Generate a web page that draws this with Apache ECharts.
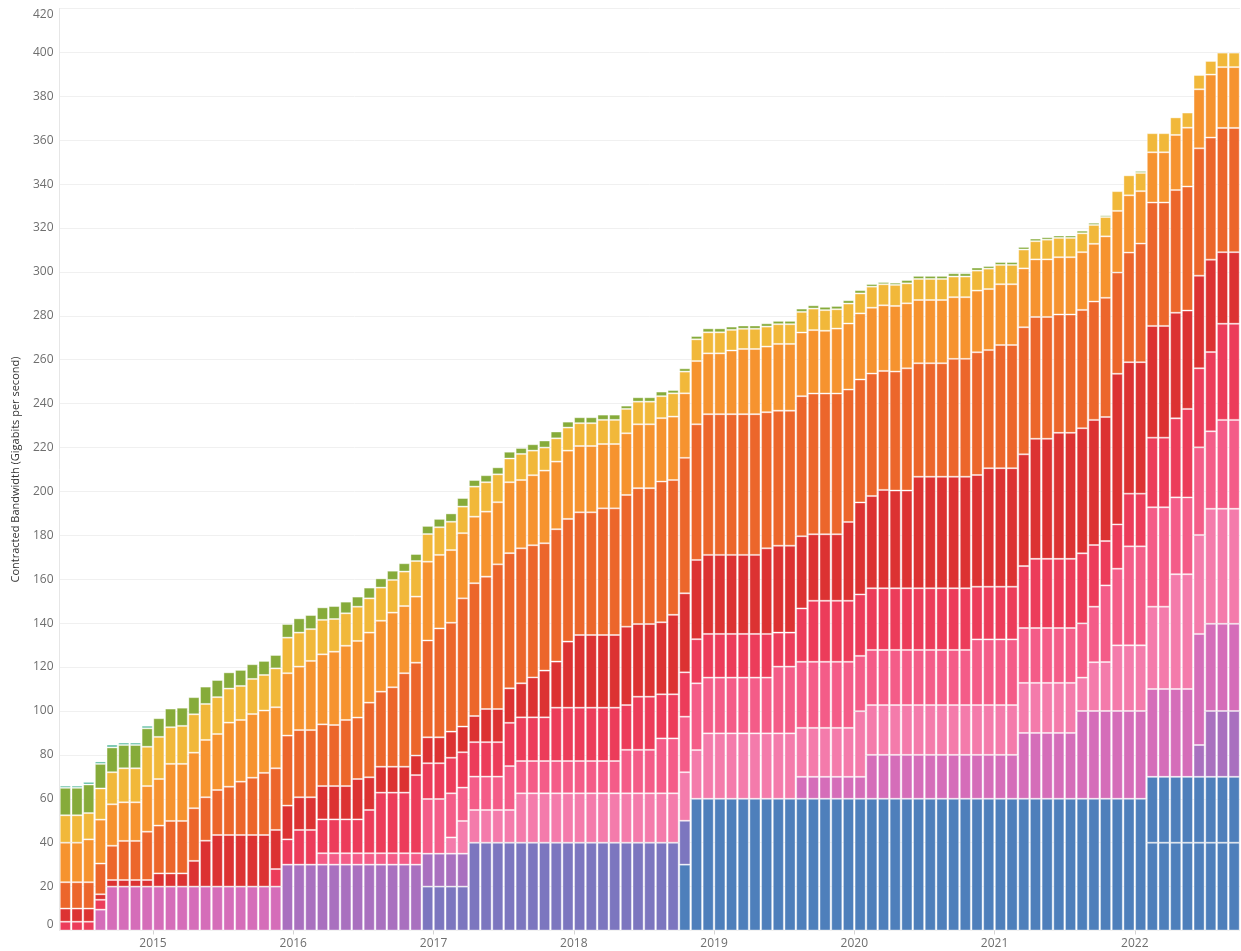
<!DOCTYPE html>
<html><head><meta charset="utf-8">
<script src="https://cdn.jsdelivr.net/npm/echarts@6/dist/echarts.min.js"></script>
<style>html,body{margin:0;padding:0;background:#fff}#c{width:1241px;height:951px}</style>
</head><body><div id="c"></div>
<script>
const _ = null;
// Monthly categories, May 2014 .. Sep 2022
const months = [];
for (let y = 2014, m = 5; months.length < 101;) { months.push(y + '-' + String(m).padStart(2, '0')); m++; if (m > 12) { m = 1; y++; } }
const yearLabels = ['2015', '2016', '2017', '2018', '2019', '2020', '2021', '2022'];

// Segment heights per month (Gbps), bottom to top of the stack
const blue = [_,_,_,_,_,_,_,_,_,_, _,_,_,_,_,_,_,_,_,_, _,_,_,_,_,_,_,_,_,_, _,_,_,_,_,_,_,_,_,_, _,_,_,_,_,_,_,_,_,_,
  _,_,_,30,60,60,60,60,60,60, 60,60,60,60,60,60,60,60,60,60, 60,60,60,60,60,60,60,60,60,60, 60,60,60,60,60,60,60,60,60,60,
  60,60,60,40,40,40,40,40,40,40, 40];
const blue2 = [_,_,_,_,_,_,_,_,_,_, _,_,_,_,_,_,_,_,_,_, _,_,_,_,_,_,_,_,_,_, _,_,_,_,_,_,_,_,_,_, _,_,_,_,_,_,_,_,_,_,
  _,_,_,_,_,_,_,_,_,_, _,_,_,_,_,_,_,_,_,_, _,_,_,_,_,_,_,_,_,_, _,_,_,_,_,_,_,_,_,_,
  _,_,_,30,30,30,30,30,30,30, 30];
const violet = [_,_,_,_,_,_,_,_,_,_, _,_,_,_,_,_,_,_,_,_, _,_,_,_,_,_,_,_,_,_, _,20,20,20,20,40,40,40,40,40, 40,40,40,40,40,40,40,40,40,40,
  40,40,40,20,_,_,_,_,_,_, _,_,_,_,_,_,_,_,_,_, _,_,_,_,_,_,_,_,_,_, _,_,_,_,_,_,_,_,_,_,
  _,_,_,_,_,_,_,_,_,_, _];
const purple = [_,_,_,_,_,_,_,_,_,_, _,_,_,_,_,_,_,_,_,30, 30,30,30,30,30,30,30,30,30,30, 30,15,15,15,15,_,_,_,_,_, _,_,_,_,_,_,_,_,_,_,
  _,_,_,_,_,_,_,_,_,_, _,_,_,_,_,_,_,_,_,_, _,_,_,_,_,_,_,_,_,_, _,_,_,_,_,_,_,_,_,_,
  _,_,_,_,_,_,_,14.5,30,30, 30];
const magenta = [_,_,_,9.5,20,20,20,20,20,20, 20,20,20,20,20,20,20,20,20,_, _,_,_,_,_,_,_,_,_,_, _,_,_,_,_,_,_,_,_,_, _,_,_,_,_,_,_,_,_,_,
  _,_,_,_,_,_,_,_,_,_, _,_,_,10,10,10,10,10,10,20, 20,20,20,20,20,20,20,20,20,20, 20,20,30,30,30,30,30,40,40,40,
  40,40,40,40,40,40,40,50.6,39.7,39.7, 39.7];
const lightPink = [_,_,_,_,_,_,_,_,_,_, _,_,_,_,_,_,_,_,_,_, _,_,_,_,_,_,_,_,_,_, _,_,_,7.4,14.9,14.9,14.9,14.9,14.9,22.5, 22.5,22.5,22.5,22.5,22.5,22.5,22.5,22.5,22.5,22.5,
  22.5,22.5,22.5,22.1,22.2,29.8,29.8,29.8,29.8,29.8, 29.8,29.8,29.8,22.3,22.3,22.3,22.3,22.3,29.9,22.7, 22.7,22.7,22.7,22.7,22.7,22.7,22.7,22.7,22.7,22.7,
  22.7,22.7,22.8,22.8,22.8,22.8,22.8,15.2,22.2,22.3, 29.9,29.9,29.9,37.5,37.5,52.3,52.3,45.1,52.4,52.4, 52.4];
const pink = [_,_,_,_,_,_,_,_,_,_, _,_,_,_,_,_,_,_,_,_, _,_,5.2,5.2,5.2,5.2,5.2,5.2,5.2,5.2, 5.2,24.9,24.9,20.1,15.2,15.2,15.2,15.2,20,14.7,
  14.7,14.7,14.7,14.7,14.7,14.7,14.7,14.7,19.8,19.8, 19.8,25,25,25.3,30.4,25.4,25.4,25.4,25.4,25.4, 25.4,30.4,30.4,30.1,30.1,30.1,30.1,30.1,25.2,25.1,
  25.1,25.1,25.1,25.1,25.1,25.1,25.1,25.1,29.9,29.9, 29.9,29.9,25,25,25,25,25,24.7,25.3,34.9, 34.9,45.1,45.1,45.3,45.3,35,35,39.9,35.3,40.5, 40.5];
const crimson = [4,4,4,4.5,_,_,_,_,_,_, _,_,_,_,_,_,_,_,8,11.5, 15.8,15.8,15.4,15.4,15.4,15.4,19.7,27.6,27.6,27.6,
  35.6,16.3,16.3,16.2,16.1,15.7,15.7,15.7,19.7,19.9, 19.9,19.9,24.3,24.3,24.3,24.3,24.3,24.3,20.4,24.2, 24.2,20.1,20.1,20.2,20.1,19.9,19.9,19.9,19.9,19.9,
  19.9,15.5,15.5,24.3,27.8,27.8,27.8,27.8,28,28.1, 28.1,28.1,28.1,28.1,28.1,28.1,28.1,28.1,24,24, 24,24,28.2,31.5,31.5,31.5,31.5,31.9,28.1,20.2,
  20.2,24,24,31.7,31.7,36,40.3,36,36.1,43.8, 43.8];
const red = [6,6,6,2.5,3,3,3,3,6,6, 6,11.7,20.9,23.5,23.5,23.5,23.5,23.5,17.8,15.4, 14.9,14.9,15.2,15.2,15.2,18.4,14.9,11.8,11.8,11.8,
  8.9,11.8,11.8,11.9,11.7,11.9,15.1,15.1,15.7,15.5, 18.2,21.3,21,30.1,33.1,33.1,33.1,33.1,35.7,33.1, 33.1,32.8,36.2,36,36.1,36,36,36,36,36,
  39,39.6,39.6,32.9,30.3,30.3,30.3,35.9,41.9,42, 44.8,44.5,44.5,50.8,50.8,50.8,50.8,50.8,50.9,54, 54,54,50.9,54.7,54.7,57.4,57.4,57,57,56.5,
  68.6,59.9,59.9,50.9,50.9,48.1,44.8,42.2,42.1,32.6, 32.6];
const darkOrange = [12,12,12,14,15.6,17.8,17.8,22,21.8,23.9, 23.9,24,19.8,20.5,22,24.3,26.1,28.3,28.1,31.9, 30.6,30.6,28.1,27.8,30.1,28,34,34.2,36.2,42.6,
  42.3,44.1,49.6,49.6,58.4,60.5,60.3,65.9,61.6,61.5, 60.2,58,60.3,55.9,55.9,55.9,57.7,57.7,60,61.9, 61.9,64.1,61.4,61.7,61.8,64.1,64.1,64.1,64.1,64.1,
  62,61.5,61.5,63.8,64.1,64.1,64.1,60.3,56,55.8, 54.2,54.2,55.7,51.7,51.7,51.7,53.7,53.7,55.9,53.8, 56.1,56.1,57.9,55.5,55.5,53.9,53.9,53.9,53.9,54.3,
  46.1,49.9,54,56.2,56.2,55.9,56.5,58,55.6,56.6, 56.6];
const orange = [18,18,19.5,20,18.9,17.6,17.6,20.8,21.2,26, 26,25.3,26.1,25.5,29.2,28.1,29,28.4,27.8,28.4, 28.9,31.5,31.9,33.4,33.8,34.9,31.9,32.3,34,30.6,
  30.1,35.9,33.5,33.1,29.7,30.3,29.6,28.3,32.3,31.1, 31.9,33.1,30.8,31.1,30.2,30.2,29.3,29.3,28.1,29.1, 29.1,28.9,28.9,29.4,28.8,27.7,27.7,29,29.7,29.7,
  29.9,30.4,30.4,29,28.9,28.6,29.6,30.1,30.1,30, 29.9,29.9,29.6,28.8,28.8,28.8,28.1,28.1,28.1,27.8, 27.7,27.7,26.8,26.2,26.2,26.1,26.1,26.3,26.3,28,
  28.1,26.1,23.9,22.9,22.9,25.1,26.8,26.9,28.7,27.7, 27.7];
const yellow = [12.5,12.5,12,14.2,14.6,15.5,15.5,17.9,19.2,16.7, 17.3,17.5,16.4,16.8,15.5,15.5,16,16.2,17.7,16.2, 15.5,14.5,15.7,14.9,14.8,15.6,15.6,15.1,14.9,15.7,
  16.2,12.6,12.6,12.9,12.1,13.7,13.4,12.7,10.8,11.9, 11.2,10.5,10.6,10.5,10.4,10.4,11,11,11.1,10.3, 10.3,10,10.6,9.9,9.9,9.6,9.6,9.4,9.2,9.2,
  9.1,9,9,9.4,9.8,9.4,8.8,9.1,9.1,9.6, 9.6,9.6,9.1,9.6,9.6,9.6,9.4,9.4,9.1,9.3, 8.8,8.8,8.6,8.3,9,8.8,8.8,8.6,8.6,8.8,
  9,9.1,8.3,8.7,8.7,8,6.9,6.5,6.2,6.6, 6.6];
const green = [12.5,12.5,13,11.2,11.3,10.6,10.6,8.4,8.5,8.5, 8.3,7.8,7.9,7.8,7.4,7.3,6.7,6.4,6.1,6.2, 6.5,6.4,5.7,5.9,5.3,4.6,4.9,4.2,4.2,3.8,
  3.2,3.7,3.8,3.8,3.9,3,3.2,3.2,3.1,2.7, 2.9,3.2,3.1,2.7,2.7,2.7,2.4,2.4,1.5,2, 2,2.1,1.5,1.5,1.5,1.8,1.8,1.5,1.5,1.5,
  1.5,1.5,1.5,1.5,1.5,1.5,1.5,1.5,1.5,1.2, 1,1,1.5,1.4,1.4,1.4,1.5,1.5,1.4,1.2, 1.3,1.3,1.2,1.2,1.1,1.1,1.1,1.2,1,0.8,
  _,_,0.9,_,_,_,_,_,_,_, _];
const teal = [1,1,1.2,1.1,1.3,1.1,1.1,1.2,_,_, _,_,_,_,_,_,_,_,_,_, _,_,_,_,_,_,_,_,_,_, _,_,_,_,_,_,_,_,_,_, _,_,_,_,_,_,_,_,_,_,
  _,_,_,_,_,_,_,_,_,_, _,_,_,_,_,_,_,_,_,_, _,_,_,_,_,_,_,_,_,_, _,_,_,_,_,_,_,_,_,_,
  _,_,_,_,_,_,_,_,_,_, _];

const layers = [
  ['Blue', '#4e7fbb', blue], ['Blue 2', '#4e7fbb', blue2], ['Violet', '#7c76bf', violet],
  ['Purple', '#a970bf', purple], ['Magenta', '#d56db9', magenta], ['Light pink', '#f47bab', lightPink],
  ['Pink', '#f45c88', pink], ['Crimson', '#ec3c5a', crimson], ['Red', '#dc3232', red],
  ['Dark orange', '#ec662b', darkOrange], ['Orange', '#f6932f', orange], ['Yellow', '#f1b83a', yellow],
  ['Green', '#86ab3a', green], ['Teal', '#52b79a', teal]
];

const boundaries = months.concat(['2022-10']);
const isJan = (i, v) => v.endsWith('-01');
const FONT = '"Open Sans", "DejaVu Sans", sans-serif';

const chart = echarts.init(document.getElementById('c'), null, { renderer: 'canvas' });
chart.setOption({
  animation: false,
  backgroundColor: '#ffffff',
  grid: { left: 59.5, right: 1, top: 8.5, bottom: 20.5 },
  xAxis: [
    { type: 'category', data: months, axisLine: { show: false }, axisTick: { show: false }, axisLabel: { show: false }, splitLine: { show: false } },
    {
      type: 'category', data: boundaries, boundaryGap: false, position: 'bottom',
      axisLine: { show: false },
      axisTick: { show: true, length: 4, interval: isJan, lineStyle: { color: '#d4d4d4' } },
      axisLabel: {
        interval: isJan, margin: 7, color: '#6e6e6e', fontSize: 12, fontFamily: FONT,
        formatter: v => yearLabels[yearLabels.indexOf(v.slice(0, 4))]
      },
      splitLine: { show: false }
    }
  ],
  yAxis: {
    type: 'value', min: 0, max: 420, interval: 20,
    name: 'Contracted Bandwidth (Gigabits per second)', nameLocation: 'middle', nameGap: 38,
    nameTextStyle: { color: '#333333', fontSize: 11, fontFamily: FONT },
    axisLine: { show: true, lineStyle: { color: '#e6e6e6' } },
    axisTick: { show: false },
    splitLine: { lineStyle: { color: '#f0f0f0', width: 1 } },
    axisLabel: {
      color: '#6e6e6e', fontSize: 12, fontFamily: FONT, margin: 6,
      formatter: v => v === 420 ? '{t|420}' : (v === 0 ? '{b|0}' : String(v)),
      rich: {
        t: { padding: [13, 0, 0, 0], color: '#6e6e6e', fontSize: 12, fontFamily: FONT },
        b: { padding: [0, 0, 11, 0], color: '#6e6e6e', fontSize: 12, fontFamily: FONT }
      }
    }
  },
  series: layers.map(([name, color, data]) => ({
    type: 'bar', name, stack: 'bw', data, xAxisIndex: 0,
    barCategoryGap: '5%',
    itemStyle: { color, borderColor: 'rgba(255,255,255,0.38)', borderWidth: 1 },
    emphasis: { disabled: true }
  }))
});
</script>
</body></html>
